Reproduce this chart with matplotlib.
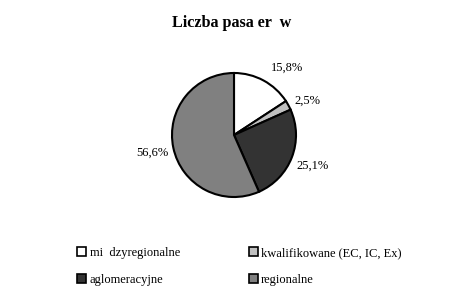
import matplotlib
matplotlib.use("Agg")
import matplotlib.pyplot as plt
from matplotlib.patches import Patch

categories = ["mi  dzyregionalne", "kwalifikowane (EC, IC, Ex)", "aglomeracyjne", "regionalne"]
values = [15.8, 2.5, 25.1, 56.6]
colors = ["#ffffff", "#c0c0c0", "#333333", "#808080"]
title = "Liczba pasa er  w"

plt.rcParams['font.family'] = ['Liberation Serif', 'DejaVu Serif']

W, H = 465, 302
fig = plt.figure(figsize=(W / 100, H / 100), dpi=100)
ax = fig.add_axes([0, 0, 1, 1])

labels = [f"{v:.1f}%".replace('.', ',') for v in values]
wedges, texts = ax.pie(values, colors=colors, startangle=90, counterclock=False,
                       center=(234, H - 135), radius=62, labels=labels,
                       labeldistance=1.34, frame=True,
                       wedgeprops=dict(edgecolor='black', linewidth=1.5),
                       textprops=dict(fontsize=9))
# label nudges in pixels (right, down)
nudges = [(13, 6), (1, 6), (1, 1), (0, 1)]
for t, (dx, dy) in zip(texts, nudges):
    t.set_ha('center')
    t.set_va('center')
    x, y = t.get_position()
    t.set_position((x + dx, y - dy))
ax.set_xlim(0, W)
ax.set_ylim(0, H)
ax.set_aspect('equal')
ax.axis('off')

fig.text(232 / W, 1 - 23 / H, title, ha='center', va='center', fontsize=11.6, fontweight='bold')

order = [0, 2, 1, 3]
handles = [Patch(facecolor=colors[i], edgecolor='black', linewidth=1.2) for i in order]
leg_labels = [categories[i] for i in order]
fig.legend(handles, leg_labels, ncol=2, loc='upper left', bbox_to_anchor=(77 / W, 1 - 247 / H),
           frameon=False, fontsize=9, handlelength=0.75, handleheight=0.75, handletextpad=0.25,
           columnspacing=5.5, labelspacing=1.17, borderpad=0, borderaxespad=0)

fig.savefig("out.png", dpi=100)
